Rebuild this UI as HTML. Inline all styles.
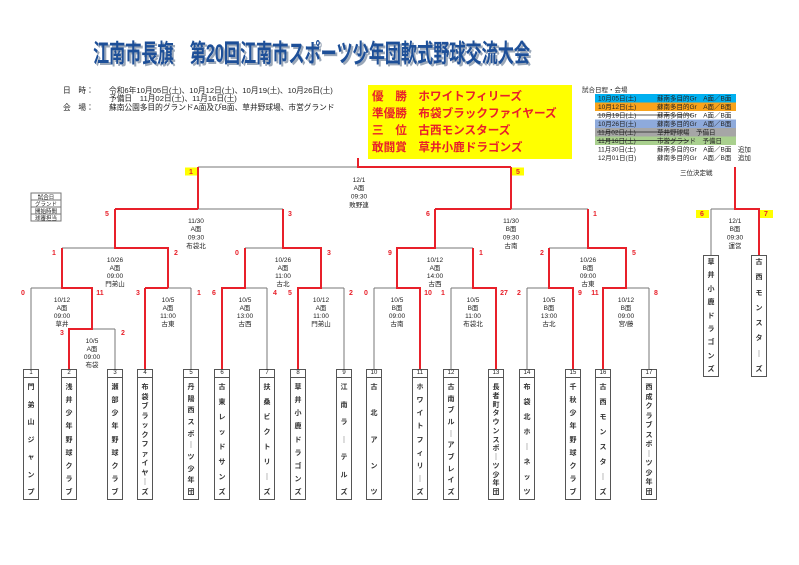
<!DOCTYPE html>
<html><head><meta charset="utf-8"><style>
body{margin:0;background:#fff;width:799px;height:565px;overflow:hidden;position:relative;font-family:"Liberation Sans","Noto Sans CJK JP",sans-serif}
svg{position:absolute;left:0;top:0}
.tm{position:absolute;border:1px solid #555;background:#fff;box-sizing:border-box;display:flex;flex-direction:column;justify-content:space-between;align-items:center;font-size:7px;font-weight:bold;color:#333;padding:6px 0 2px 0;line-height:8px}
.nb{position:absolute;border:1px solid #555;box-sizing:border-box;font-size:6px;text-align:center;line-height:7px;color:#222;background:#fff}
</style></head><body>
<svg width="799" height="565" xmlns="http://www.w3.org/2000/svg" font-family="Liberation Sans, Noto Sans CJK JP, sans-serif">
<text x="95" y="64" font-size="25" font-weight="bold" fill="#9aa7b8" textLength="437" lengthAdjust="spacingAndGlyphs">江南市長旗　第20回江南市スポーツ少年団軟式野球交流大会</text>
<text x="93" y="62" font-size="25" font-weight="bold" fill="#1d4f98" textLength="437" lengthAdjust="spacingAndGlyphs">江南市長旗　第20回江南市スポーツ少年団軟式野球交流大会</text>
<g font-size="7.7" fill="#222">
<text x="63" y="93">日　時：</text>
<text x="109" y="93">令和6年10月05日(土)、10月12日(土)、10月19(土)、10月26日(土)</text>
<text x="109" y="101">予備日　11月02日(土)、11月16日(土)</text>
<text x="63" y="110">会　場：</text>
<text x="109" y="110">蘇南公園多目的グランドA面及びB面、草井野球場、市営グランド</text>
</g>
<rect x="368" y="85" width="204" height="74" fill="#ffff00"/>
<g font-size="11.6" font-weight="bold" fill="#e8202a">
<text x="372" y="100">優　勝　ホワイトフィリーズ</text>
<text x="372" y="117">準優勝　布袋ブラックファイヤーズ</text>
<text x="372" y="134">三　位　古西モンスターズ</text>
<text x="372" y="151">敢闘賞　草井小鹿ドラゴンズ</text>
</g>
<g font-size="6.5" fill="#222">
<text x="582" y="92">試合日程・会場</text>
<rect x="595" y="94" width="141" height="8.5" fill="#00b0f0"/>
<rect x="595" y="102.5" width="141" height="8.5" fill="#f9a31b"/>
<rect x="595" y="119.5" width="141" height="8.5" fill="#8eaadb"/>
<rect x="595" y="128" width="141" height="8.5" fill="#a6a6a6"/>
<rect x="595" y="136.5" width="141" height="8.5" fill="#a9d08e"/>
<text x="598" y="100.5">10月05日(土)</text><text x="657" y="100.5">蘇南多目的Gr　A面／B面</text>
<text x="598" y="109">10月12日(土)</text><text x="657" y="109">蘇南多目的Gr　A面／B面</text>
<text x="598" y="117.5">10月19日(土)</text><text x="657" y="117.5">蘇南多目的Gr　A面／B面</text>
<text x="598" y="126">10月26日(土)</text><text x="657" y="126">蘇南多目的Gr　A面／B面</text>
<text x="598" y="134.5">11月02日(土)</text><text x="657" y="134.5">草井野球場　予備日</text>
<text x="598" y="143">11月16日(土)</text><text x="657" y="143">市営グランド　予備日</text>
<text x="598" y="151.5">11月30日(土)</text><text x="657" y="151.5">蘇南多目的Gr　A面／B面　追加</text>
<text x="598" y="160">12月01日(日)</text><text x="657" y="160">蘇南多目的Gr　A面／B面　追加</text>
<g stroke="#222" stroke-width="0.7"><line x1="597" y1="115" x2="692" y2="115"/><line x1="597" y1="132" x2="685" y2="132"/><line x1="597" y1="140.5" x2="688" y2="140.5"/></g>
<text x="680" y="175">三位決定戦</text>
</g>
<g fill="none" stroke="#777" stroke-width="1">
<rect x="31" y="193" width="30" height="7"/><rect x="31" y="200" width="30" height="7"/><rect x="31" y="207" width="30" height="7"/><rect x="31" y="214" width="30" height="7"/>
</g>
<g font-size="5.5" fill="#222" text-anchor="middle"><text x="46" y="199">試合日</text><text x="46" y="206">グランド</text><text x="46" y="213">開始時間</text><text x="46" y="220">球審担当</text></g>
<g fill="none" stroke="#777" stroke-width="1">
<path d="M198 167H358 M198 209H283 M62 248H115 M31 288H62 M31 288V369 M92 329H115 M115 329V369 M168 288H191 M191 288V369 M245 248H283 M245 288H267 M267 288V369 M321 288H344 M344 288V369 M511 209H588 M435 248H473 M374 288H397 M374 288V369 M451 288H473 M451 288V369 M549 248H588 M527 288H549 M527 288V369 M626 288H649 M649 288V369 M711 209H735 M711 209V255"/>
</g>
<g fill="none" stroke="#e8202a" stroke-width="2">
<path d="M358 158V167H511 M198 167V209 M511 167V209 M115 209H198 M115 209V248H168V288 M62 248V288H92V329H69V369 M145 288H168 M145 288V369 M283 209V248H321V288H298V369 M245 248V288H222V369 M435 209H511 M435 209V248H397V288H420V369 M473 248V288H496V369 M588 209V248H626V288H603V369 M549 248V288H573V369 M735 167V209H759V255"/>
</g>
<rect x="185" y="167.5" width="12" height="8" fill="#ffff00"/><rect x="512" y="167.5" width="12" height="8" fill="#ffff00"/>
<rect x="696" y="210" width="13" height="8" fill="#ffff00"/><rect x="760" y="210" width="13" height="8" fill="#ffff00"/>
<g font-size="7" font-weight="bold" fill="#e8202a" text-anchor="middle">
<text x="191" y="174">1</text><text x="518" y="174">5</text><text x="702" y="216">6</text><text x="766" y="216">7</text>
<text x="107" y="216">5</text><text x="290" y="216">3</text><text x="428" y="216">6</text><text x="595" y="216">1</text>
<text x="54" y="255">1</text><text x="176" y="255">2</text><text x="237" y="255">0</text><text x="329" y="255">3</text>
<text x="390" y="255">9</text><text x="481" y="255">1</text><text x="542" y="255">2</text><text x="634" y="255">5</text>
<text x="23" y="295">0</text><text x="100" y="295">11</text><text x="138" y="295">3</text><text x="199" y="295">1</text>
<text x="214" y="295">6</text><text x="275" y="295">4</text><text x="290" y="295">5</text><text x="351" y="295">2</text>
<text x="366" y="295">0</text><text x="428" y="295">10</text><text x="443" y="295">1</text><text x="504" y="295">27</text>
<text x="519" y="295">2</text><text x="580" y="295">9</text><text x="595" y="295">11</text><text x="656" y="295">8</text>
<text x="62" y="335">3</text><text x="123" y="335">2</text>
</g>
<g font-size="6.5" fill="#222" text-anchor="middle">
<text x="359" y="182">12/1</text><text x="359" y="190">A面</text><text x="359" y="198.5">09:30</text><text x="359" y="207">敗野連</text>
<text x="196" y="223">11/30</text><text x="196" y="231">A面</text><text x="196" y="239.5">09:30</text><text x="196" y="248">布袋北</text>
<text x="511" y="223">11/30</text><text x="511" y="231">B面</text><text x="511" y="239.5">09:30</text><text x="511" y="248">古南</text>
<text x="735" y="223">12/1</text><text x="735" y="231">B面</text><text x="735" y="239.5">09:30</text><text x="735" y="248">運営</text>
<text x="115" y="262">10/26</text><text x="115" y="270">A面</text><text x="115" y="278">09:00</text><text x="115" y="286">門弟山</text>
<text x="283" y="262">10/26</text><text x="283" y="270">A面</text><text x="283" y="278">11:00</text><text x="283" y="286">古北</text>
<text x="435" y="262">10/12</text><text x="435" y="270">A面</text><text x="435" y="278">14:00</text><text x="435" y="286">古西</text>
<text x="588" y="262">10/26</text><text x="588" y="270">B面</text><text x="588" y="278">09:00</text><text x="588" y="286">古東</text>
<text x="62" y="302">10/12</text><text x="62" y="310">A面</text><text x="62" y="318">09:00</text><text x="62" y="326">草井</text>
<text x="92" y="343">10/5</text><text x="92" y="351">A面</text><text x="92" y="359">09:00</text><text x="92" y="367">布袋</text>
<text x="168" y="302">10/5</text><text x="168" y="310">A面</text><text x="168" y="318">11:00</text><text x="168" y="326">古東</text>
<text x="245" y="302">10/5</text><text x="245" y="310">A面</text><text x="245" y="318">13:00</text><text x="245" y="326">古西</text>
<text x="321" y="302">10/12</text><text x="321" y="310">A面</text><text x="321" y="318">11:00</text><text x="321" y="326">門弟山</text>
<text x="397" y="302">10/5</text><text x="397" y="310">B面</text><text x="397" y="318">09:00</text><text x="397" y="326">古南</text>
<text x="473" y="302">10/5</text><text x="473" y="310">B面</text><text x="473" y="318">11:00</text><text x="473" y="326">布袋北</text>
<text x="549" y="302">10/5</text><text x="549" y="310">B面</text><text x="549" y="318">13:00</text><text x="549" y="326">古北</text>
<text x="626" y="302">10/12</text><text x="626" y="310">B面</text><text x="626" y="318">09:00</text><text x="626" y="326">宮/藤</text>
</g>
</svg>

<div class="nb" style="left:23px;top:369px;width:16px;height:9px">1</div>
<div class="nb" style="left:61px;top:369px;width:16px;height:9px">2</div>
<div class="nb" style="left:107px;top:369px;width:16px;height:9px">3</div>
<div class="nb" style="left:137px;top:369px;width:16px;height:9px">4</div>
<div class="nb" style="left:183px;top:369px;width:16px;height:9px">5</div>
<div class="nb" style="left:214px;top:369px;width:16px;height:9px">6</div>
<div class="nb" style="left:259px;top:369px;width:16px;height:9px">7</div>
<div class="nb" style="left:290px;top:369px;width:16px;height:9px">8</div>
<div class="nb" style="left:336px;top:369px;width:16px;height:9px">9</div>
<div class="nb" style="left:366px;top:369px;width:16px;height:9px">10</div>
<div class="nb" style="left:412px;top:369px;width:16px;height:9px">11</div>
<div class="nb" style="left:443px;top:369px;width:16px;height:9px">12</div>
<div class="nb" style="left:488px;top:369px;width:16px;height:9px">13</div>
<div class="nb" style="left:519px;top:369px;width:16px;height:9px">14</div>
<div class="nb" style="left:565px;top:369px;width:16px;height:9px">15</div>
<div class="nb" style="left:595px;top:369px;width:16px;height:9px">16</div>
<div class="nb" style="left:641px;top:369px;width:16px;height:9px">17</div>

<div class="tm" style="left:23px;top:377px;width:16px;height:123px"><span>門</span><span>弟</span><span>山</span><span>ジ</span><span>ャ</span><span>ン</span><span>プ</span></div>
<div class="tm" style="left:61px;top:377px;width:16px;height:123px"><span>浅</span><span>井</span><span>少</span><span>年</span><span>野</span><span>球</span><span>ク</span><span>ラ</span><span>ブ</span></div>
<div class="tm" style="left:107px;top:377px;width:16px;height:123px"><span>瀬</span><span>部</span><span>少</span><span>年</span><span>野</span><span>球</span><span>ク</span><span>ラ</span><span>ブ</span></div>
<div class="tm" style="left:137px;top:377px;width:16px;height:123px"><span>布</span><span>袋</span><span>ブ</span><span>ラ</span><span>ッ</span><span>ク</span><span>フ</span><span>ァ</span><span>イ</span><span>ヤ</span><span>｜</span><span>ズ</span></div>
<div class="tm" style="left:183px;top:377px;width:16px;height:123px"><span>丹</span><span>陽</span><span>西</span><span>ス</span><span>ポ</span><span>｜</span><span>ツ</span><span>少</span><span>年</span><span>団</span></div>
<div class="tm" style="left:214px;top:377px;width:16px;height:123px"><span>古</span><span>東</span><span>レ</span><span>ッ</span><span>ド</span><span>サ</span><span>ン</span><span>ズ</span></div>
<div class="tm" style="left:259px;top:377px;width:16px;height:123px"><span>扶</span><span>桑</span><span>ビ</span><span>ク</span><span>ト</span><span>リ</span><span>｜</span><span>ズ</span></div>
<div class="tm" style="left:290px;top:377px;width:16px;height:123px"><span>草</span><span>井</span><span>小</span><span>鹿</span><span>ド</span><span>ラ</span><span>ゴ</span><span>ン</span><span>ズ</span></div>
<div class="tm" style="left:336px;top:377px;width:16px;height:123px"><span>江</span><span>南</span><span>ラ</span><span>｜</span><span>テ</span><span>ル</span><span>ズ</span></div>
<div class="tm" style="left:366px;top:377px;width:16px;height:123px"><span>古</span><span>北</span><span>ア</span><span>ン</span><span>ツ</span></div>
<div class="tm" style="left:412px;top:377px;width:16px;height:123px"><span>ホ</span><span>ワ</span><span>イ</span><span>ト</span><span>フ</span><span>ィ</span><span>リ</span><span>｜</span><span>ズ</span></div>
<div class="tm" style="left:443px;top:377px;width:16px;height:123px"><span>古</span><span>南</span><span>ブ</span><span>ル</span><span>｜</span><span>ア</span><span>ブ</span><span>レ</span><span>イ</span><span>ズ</span></div>
<div class="tm" style="left:488px;top:377px;width:16px;height:123px"><span>長</span><span>者</span><span>町</span><span>タ</span><span>ウ</span><span>ン</span><span>ス</span><span>ポ</span><span>｜</span><span>ツ</span><span>少</span><span>年</span><span>団</span></div>
<div class="tm" style="left:519px;top:377px;width:16px;height:123px"><span>布</span><span>袋</span><span>北</span><span>ホ</span><span>｜</span><span>ネ</span><span>ッ</span><span>ツ</span></div>
<div class="tm" style="left:565px;top:377px;width:16px;height:123px"><span>千</span><span>秋</span><span>少</span><span>年</span><span>野</span><span>球</span><span>ク</span><span>ラ</span><span>ブ</span></div>
<div class="tm" style="left:595px;top:377px;width:16px;height:123px"><span>古</span><span>西</span><span>モ</span><span>ン</span><span>ス</span><span>タ</span><span>｜</span><span>ズ</span></div>
<div class="tm" style="left:641px;top:377px;width:16px;height:123px"><span>西</span><span>成</span><span>ク</span><span>ラ</span><span>ブ</span><span>ス</span><span>ポ</span><span>｜</span><span>ツ</span><span>少</span><span>年</span><span>団</span></div>
<div class="tm" style="left:703px;top:255px;width:16px;height:122px;padding-top:3px"><span>草</span><span>井</span><span>小</span><span>鹿</span><span>ド</span><span>ラ</span><span>ゴ</span><span>ン</span><span>ズ</span></div>
<div class="tm" style="left:751px;top:255px;width:16px;height:122px;padding-top:3px"><span>古</span><span>西</span><span>モ</span><span>ン</span><span>ス</span><span>タ</span><span>｜</span><span>ズ</span></div>
</body></html>
